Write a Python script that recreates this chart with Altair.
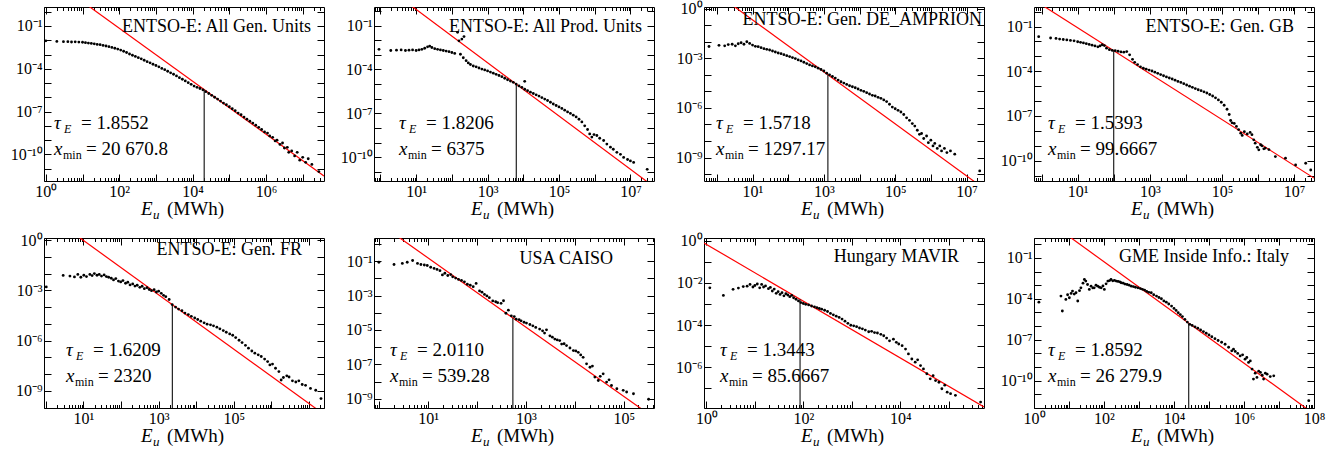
import math

import altair as alt
import pandas as pd

FONT = "Liberation Serif"
W = 280
ROW_H = [174, 170]

# Log-binned energy distributions: (log10 E_u [MWh], log10 P(E_u))
all_gen = [
    (0.00, -2.04), (0.30, -2.08), (0.48, -2.10), (0.60, -2.10), (0.70, -2.12), (0.80, -2.11),
    (0.90, -2.13), (1.00, -2.14), (1.08, -2.17), (1.16, -2.20), (1.24, -2.22), (1.32, -2.25),
    (1.40, -2.29), (1.48, -2.31), (1.56, -2.36), (1.64, -2.40), (1.72, -2.45), (1.80, -2.50),
    (1.88, -2.56), (1.96, -2.62), (2.04, -2.69), (2.12, -2.77), (2.20, -2.86), (2.28, -2.96),
    (2.36, -3.05), (2.44, -3.13), (2.52, -3.22), (2.60, -3.30), (2.68, -3.40), (2.76, -3.50),
    (2.84, -3.58), (2.92, -3.68), (3.00, -3.77), (3.08, -3.86), (3.16, -3.97), (3.24, -4.06),
    (3.32, -4.17), (3.40, -4.28), (3.48, -4.38), (3.56, -4.50), (3.64, -4.62), (3.72, -4.73),
    (3.80, -4.85), (3.88, -4.97), (3.96, -5.09), (4.04, -5.21), (4.12, -5.30), (4.20, -5.38),
    (4.28, -5.47), (4.36, -5.60), (4.44, -5.73), (4.52, -5.86), (4.60, -5.99), (4.68, -6.12),
    (4.76, -6.26), (4.84, -6.40), (4.92, -6.52), (5.00, -6.66), (5.08, -6.80), (5.16, -6.94),
    (5.24, -7.10), (5.32, -7.22), (5.40, -7.38), (5.48, -7.53), (5.56, -7.67), (5.64, -7.80),
    (5.72, -7.95), (5.80, -8.10), (5.88, -8.25), (5.96, -8.42), (6.04, -8.50), (6.10, -8.70),
    (6.18, -8.80), (6.25, -9.05), (6.30, -9.00), (6.38, -9.30), (6.45, -9.20), (6.50, -9.55),
    (6.58, -9.50), (6.62, -9.85), (6.70, -9.75), (6.78, -10.10), (6.85, -9.85), (6.92, -10.40),
    (7.00, -10.20), (7.08, -10.55), (7.15, -10.30), (7.25, -10.70), (7.44, -11.20),
]

all_prod = [
    (-0.04, -2.62), (0.29, -2.70), (0.45, -2.68), (0.58, -2.66), (0.70, -2.70), (0.80, -2.68),
    (0.90, -2.66), (1.00, -2.70), (1.08, -2.66), (1.16, -2.62), (1.24, -2.55), (1.32, -2.45),
    (1.38, -2.40), (1.44, -2.50), (1.52, -2.58), (1.60, -2.62), (1.68, -2.66), (1.76, -2.70),
    (1.84, -2.74), (1.92, -2.78), (2.00, -2.84), (2.08, -2.90), (2.16, -1.46), (2.20, -2.04),
    (2.28, -1.92), (2.34, -1.75), (2.24, -2.96), (2.32, -3.20), (2.40, -3.40), (2.46, -3.55),
    (2.52, -3.66), (2.60, -3.76), (2.68, -3.82), (2.76, -3.90), (2.84, -3.97), (2.92, -4.03),
    (3.00, -4.10), (3.08, -4.18), (3.16, -4.25), (3.24, -4.33), (3.32, -4.41), (3.40, -4.49),
    (3.48, -4.60), (3.56, -4.70), (3.64, -4.79), (3.72, -4.88), (3.80, -5.00), (3.88, -5.12),
    (3.96, -5.22), (4.04, -4.81), (4.04, -5.35), (4.12, -5.45), (4.20, -5.55), (4.28, -5.64),
    (4.36, -5.73), (4.44, -5.82), (4.52, -5.92), (4.60, -6.02), (4.68, -6.12), (4.76, -6.24),
    (4.84, -6.36), (4.92, -6.46), (5.00, -6.56), (5.08, -6.66), (5.16, -6.78), (5.24, -6.90),
    (5.32, -7.00), (5.40, -7.12), (5.48, -7.24), (5.56, -7.40), (5.64, -7.58), (5.72, -7.85),
    (5.80, -8.10), (5.86, -8.40), (5.92, -8.62), (5.98, -8.45), (6.06, -8.51), (6.14, -8.70),
    (6.25, -8.85), (6.34, -9.10), (6.44, -9.31), (6.52, -9.45), (6.62, -9.66), (6.72, -9.80),
    (6.81, -10.01), (6.92, -10.15), (7.00, -10.25), (7.09, -10.35), (7.47, -10.82),
]

de_amprion = [
    (-0.22, -2.29), (0.06, -2.22), (0.22, -2.25), (0.32, -2.17), (0.43, -2.15), (0.52, -2.25),
    (0.60, -2.12), (0.68, -2.06), (0.76, -2.15), (0.84, -2.00), (0.92, -2.10), (1.00, -2.20),
    (1.08, -2.28), (1.16, -2.30), (1.24, -2.36), (1.32, -2.42), (1.40, -2.46), (1.48, -2.50),
    (1.56, -2.56), (1.64, -2.62), (1.72, -2.68), (1.80, -2.72), (1.88, -2.78), (1.96, -2.84),
    (2.04, -2.90), (2.12, -2.96), (2.20, -3.02), (2.28, -3.10), (2.36, -3.16), (2.44, -3.24),
    (2.52, -3.32), (2.60, -3.40), (2.68, -3.46), (2.76, -3.52), (2.84, -3.60), (2.92, -3.68),
    (3.00, -3.77), (3.08, -3.90), (3.16, -4.00), (3.24, -4.10), (3.32, -4.20), (3.40, -4.32),
    (3.48, -4.42), (3.56, -4.50), (3.64, -4.58), (3.72, -4.66), (3.80, -4.72), (3.88, -4.78),
    (3.96, -4.86), (4.04, -4.94), (4.12, -5.00), (4.20, -5.08), (4.28, -5.16), (4.36, -5.24),
    (4.44, -5.28), (4.52, -5.36), (4.60, -5.42), (4.68, -5.52), (4.76, -5.62), (4.84, -5.78),
    (4.92, -5.95), (5.00, -6.05), (5.08, -6.15), (5.16, -6.25), (5.24, -6.40), (5.32, -6.60),
    (5.40, -6.75), (5.48, -6.95), (5.55, -7.10), (5.62, -7.35), (5.68, -7.60), (5.74, -7.55),
    (5.80, -7.85), (5.88, -7.70), (5.93, -8.10), (6.00, -7.95), (6.06, -8.30), (6.11, -8.15),
    (6.18, -8.45), (6.25, -8.30), (6.30, -8.60), (6.38, -8.45), (6.45, -8.70), (6.55, -8.60),
    (6.67, -8.80), (7.37, -9.81),
]

gb = [
    (-0.08, -1.68), (0.25, -1.77), (0.40, -1.80), (0.50, -1.84), (0.60, -1.87), (0.70, -1.90),
    (0.80, -1.93), (0.90, -1.96), (1.00, -2.02), (1.08, -2.06), (1.16, -2.10), (1.24, -2.15),
    (1.32, -2.20), (1.40, -2.25), (1.48, -2.30), (1.56, -2.36), (1.62, -2.30), (1.68, -2.22),
    (1.74, -2.28), (1.80, -2.45), (1.88, -2.55), (1.96, -2.60), (2.04, -2.62), (2.12, -2.66),
    (2.20, -2.70), (2.28, -2.72), (2.36, -2.68), (2.44, -2.90), (2.52, -3.20), (2.58, -3.40),
    (2.66, -3.55), (2.74, -3.70), (2.82, -3.80), (2.90, -3.86), (2.98, -3.92), (3.06, -3.98),
    (3.14, -4.06), (3.22, -4.14), (3.30, -4.22), (3.38, -4.30), (3.46, -4.38), (3.54, -4.45),
    (3.62, -4.52), (3.70, -4.60), (3.78, -4.68), (3.86, -4.75), (3.94, -4.83), (4.02, -4.92),
    (4.10, -5.00), (4.18, -5.08), (4.26, -5.16), (4.34, -5.24), (4.42, -5.30), (4.50, -5.38),
    (4.58, -5.46), (4.66, -5.56), (4.74, -5.66), (4.82, -5.78), (4.90, -5.92), (4.98, -6.08),
    (5.06, -6.28), (5.14, -6.55), (5.20, -6.90), (5.24, -7.30), (5.28, -7.46), (5.34, -7.50),
    (5.40, -7.70), (5.46, -7.91), (5.52, -8.15), (5.56, -8.30), (5.62, -8.05), (5.70, -8.20),
    (5.78, -8.10), (5.83, -8.25), (5.88, -8.60), (5.92, -8.82), (5.98, -9.10), (6.02, -9.27),
    (6.07, -8.93), (6.11, -9.00), (6.16, -9.20), (6.20, -9.15), (6.30, -9.25), (6.48, -9.72),
    (6.76, -9.83), (7.04, -10.28), (7.32, -10.17), (7.46, -10.62),
]

fr = [
    (0.01, -2.80), (0.46, -2.11), (0.64, -2.15), (0.76, -2.20), (0.85, -2.05), (0.93, -2.22),
    (1.01, -2.10), (1.08, -2.18), (1.17, -2.05), (1.23, -2.12), (1.29, -2.00), (1.36, -2.10),
    (1.42, -2.05), (1.48, -2.15), (1.55, -2.08), (1.61, -2.18), (1.67, -2.22), (1.74, -2.28),
    (1.80, -2.38), (1.86, -2.30), (1.93, -2.45), (1.99, -2.50), (2.05, -2.42), (2.12, -2.58),
    (2.18, -2.52), (2.24, -2.68), (2.31, -2.62), (2.37, -2.75), (2.43, -2.70), (2.50, -2.82),
    (2.56, -2.76), (2.62, -2.90), (2.69, -2.84), (2.75, -2.95), (2.81, -3.02), (2.88, -2.96),
    (2.94, -3.10), (3.00, -3.05), (3.07, -3.18), (3.13, -3.30), (3.19, -3.38), (3.28, -3.55),
    (3.36, -3.85), (3.45, -4.00), (3.53, -4.12), (3.62, -4.22), (3.70, -4.36), (3.79, -4.45),
    (3.87, -4.55), (3.96, -4.65), (4.04, -4.74), (4.12, -4.84), (4.21, -4.94), (4.29, -5.02),
    (4.38, -5.06), (4.46, -5.12), (4.55, -5.20), (4.63, -5.30), (4.72, -5.40), (4.80, -5.50),
    (4.89, -5.60), (4.97, -5.68), (5.05, -5.82), (5.14, -5.98), (5.22, -6.12), (5.31, -6.28),
    (5.39, -6.45), (5.48, -6.62), (5.56, -6.75), (5.65, -6.85), (5.73, -6.95), (5.82, -7.10),
    (5.90, -7.25), (5.96, -7.45), (6.03, -7.40), (6.11, -7.65), (6.20, -7.85), (6.26, -8.35),
    (6.32, -8.20), (6.41, -8.10), (6.47, -8.17), (6.56, -8.40), (6.65, -8.47), (6.73, -8.40),
    (6.82, -8.62), (6.91, -8.67), (7.04, -8.85), (7.18, -8.96), (7.32, -9.46),
]

caiso = [
    (-0.01, -1.06), (0.30, -1.19), (0.47, -1.13), (0.57, -1.06), (0.68, -0.96), (0.78, -1.13),
    (0.85, -1.19), (0.92, -1.22), (0.98, -1.25), (1.05, -1.35), (1.12, -1.42), (1.18, -1.48),
    (1.24, -1.55), (1.29, -1.80), (1.34, -1.70), (1.40, -1.83), (1.46, -1.78), (1.50, -1.91),
    (1.56, -1.98), (1.62, -2.06), (1.68, -2.12), (1.74, -2.20), (1.80, -2.34), (1.86, -2.40),
    (1.92, -2.48), (1.98, -2.29), (2.05, -2.73), (2.10, -2.80), (2.15, -2.93), (2.20, -3.02),
    (2.25, -3.12), (2.32, -3.31), (2.38, -3.36), (2.42, -3.41), (2.49, -3.45), (2.54, -3.30),
    (2.59, -4.03), (2.64, -3.85), (2.70, -4.18), (2.76, -4.22), (2.80, -4.37), (2.86, -4.40),
    (2.90, -4.47), (2.96, -4.55), (3.01, -4.60), (3.08, -4.68), (3.14, -4.76), (3.20, -4.85),
    (3.28, -4.95), (3.34, -5.05), (3.38, -5.18), (3.42, -4.99), (3.49, -5.34), (3.54, -5.42),
    (3.59, -5.53), (3.64, -5.58), (3.69, -5.62), (3.73, -5.82), (3.78, -5.80), (3.83, -5.91),
    (3.90, -6.05), (3.97, -6.20), (4.02, -6.22), (4.07, -6.30), (4.12, -6.45), (4.17, -6.59),
    (4.24, -6.97), (4.31, -7.17), (4.36, -7.10), (4.41, -7.74), (4.48, -7.94), (4.52, -7.70),
    (4.58, -7.55), (4.65, -8.03), (4.70, -7.90), (4.75, -8.23), (4.86, -8.42), (4.99, -8.51),
    (5.06, -8.61), (5.20, -8.71), (5.51, -9.03),
]

mavir = [
    (0.07, -2.24), (0.35, -2.60), (0.55, -2.31), (0.66, -2.25), (0.76, -2.18), (0.84, -2.16),
    (0.90, -2.08), (0.96, -2.20), (1.00, -2.13), (1.05, -2.06), (1.10, -2.24), (1.14, -2.08),
    (1.18, -2.20), (1.22, -2.15), (1.28, -2.28), (1.32, -2.22), (1.36, -2.39), (1.40, -2.30),
    (1.44, -2.50), (1.48, -2.42), (1.52, -2.55), (1.56, -2.47), (1.60, -2.62), (1.64, -2.52),
    (1.68, -2.58), (1.72, -2.66), (1.76, -2.60), (1.80, -2.71), (1.85, -2.78), (1.90, -2.86),
    (1.95, -2.94), (2.00, -2.98), (2.05, -3.02), (2.11, -3.05), (2.17, -3.10), (2.23, -3.14),
    (2.28, -3.18), (2.33, -3.22), (2.38, -3.25), (2.44, -3.30), (2.50, -3.36), (2.56, -3.45),
    (2.62, -3.52), (2.68, -3.58), (2.74, -3.64), (2.80, -3.72), (2.86, -3.82), (2.92, -3.92),
    (2.98, -4.01), (3.04, -4.04), (3.10, -4.08), (3.16, -4.14), (3.22, -4.18), (3.28, -4.24),
    (3.35, -4.32), (3.41, -4.30), (3.47, -4.36), (3.53, -4.38), (3.60, -4.44), (3.66, -4.51),
    (3.72, -4.62), (3.78, -4.75), (3.86, -4.67), (3.92, -4.82), (3.97, -4.90), (4.04, -4.98),
    (4.11, -5.14), (4.17, -5.37), (4.24, -5.61), (4.31, -5.76), (4.36, -5.65), (4.42, -5.92),
    (4.48, -6.08), (4.55, -6.31), (4.62, -6.55), (4.68, -6.40), (4.73, -6.63), (4.80, -6.71),
    (4.86, -7.02), (4.92, -6.85), (4.97, -7.18), (5.04, -7.25), (5.14, -7.33), (5.66, -7.65),
]

gme_italy = [
    (0.14, -4.24), (0.77, -3.80), (0.81, -4.89), (0.91, -4.04), (0.96, -3.70), (1.01, -3.92),
    (1.06, -3.60), (1.10, -3.43), (1.15, -3.65), (1.20, -3.55), (1.25, -4.16), (1.30, -3.40),
    (1.34, -3.19), (1.40, -2.85), (1.44, -2.58), (1.48, -2.70), (1.53, -2.95), (1.58, -3.31),
    (1.63, -3.07), (1.68, -3.20), (1.72, -3.19), (1.77, -3.00), (1.82, -3.07), (1.87, -3.15),
    (1.92, -3.19), (1.97, -3.05), (2.01, -3.31), (2.06, -2.90), (2.11, -2.70), (2.16, -2.66),
    (2.20, -2.58), (2.25, -2.68), (2.30, -2.64), (2.35, -2.70), (2.40, -2.72), (2.45, -2.75),
    (2.49, -2.82), (2.55, -2.85), (2.60, -2.92), (2.66, -2.95), (2.72, -3.00), (2.78, -3.07),
    (2.84, -3.10), (2.90, -3.15), (2.97, -3.19), (3.04, -3.25), (3.10, -3.30), (3.16, -3.36),
    (3.22, -3.45), (3.28, -3.52), (3.35, -3.55), (3.42, -3.70), (3.50, -3.80), (3.57, -3.90),
    (3.64, -3.99), (3.71, -4.15), (3.78, -4.24), (3.85, -4.38), (3.93, -4.53), (4.00, -4.70),
    (4.06, -4.85), (4.12, -5.01), (4.18, -5.15), (4.24, -5.30), (4.31, -5.50), (4.38, -5.70),
    (4.45, -5.87), (4.52, -5.95), (4.60, -6.05), (4.68, -6.15), (4.76, -6.28), (4.84, -6.40),
    (4.92, -6.52), (5.00, -6.65), (5.08, -6.78), (5.17, -6.92), (5.26, -7.05), (5.36, -7.18),
    (5.46, -7.33), (5.56, -7.55), (5.65, -7.81), (5.70, -7.69), (5.75, -7.85), (5.82, -8.00),
    (5.89, -8.18), (5.96, -8.10), (6.03, -8.42), (6.08, -8.30), (6.13, -8.66), (6.18, -8.55),
    (6.23, -9.15), (6.27, -9.88), (6.32, -9.45), (6.37, -9.76), (6.42, -9.30), (6.47, -9.39),
    (6.52, -9.60), (6.56, -9.88), (6.61, -9.45), (6.66, -9.52), (6.75, -9.70), (6.85, -9.64),
    (7.85, -11.46),
]

# Fit results and per-panel axis ranges (log10 units)
PANELS = [
    dict(title="ENTSO-E: All Gen. Units", tau=1.8552, xmin=20670.8, xmin_text="20 670.8",
         log_p_cut=-5.45, points=all_gen, x_dom=(-0.05, 7.58), y_dom=(-11.86, 0.33),
         x_labels=[0, 2, 4, 6], y_labels=[-1, -4, -7, -10],
         title_right=13, title_base=25, note_left=10),
    dict(title="ENTSO-E: All Prod. Units", tau=1.8206, xmin=6375, xmin_text="6375",
         log_p_cut=-5.0, points=all_prod, x_dom=(-0.18, 7.66), y_dom=(-11.62, 0.27),
         x_labels=[1, 3, 5, 7], y_labels=[-1, -4, -7, -10],
         title_right=12, title_base=25, note_left=25),
    dict(title="ENTSO-E: Gen. DE_AMPRION", tau=1.5718, xmin=1297.17, xmin_text="1297.17",
         log_p_cut=-4.0, points=de_amprion, x_dom=(-0.36, 7.49), y_dom=(-10.42, 0.1),
         x_labels=[1, 3, 5, 7], y_labels=[0, -3, -6, -9],
         title_right=2, title_base=18, note_left=12),
    dict(title="ENTSO-E: Gen. GB", tau=1.5393, xmin=99.6667, xmin_text="99.6667",
         log_p_cut=-2.62, points=gb, x_dom=(-0.21, 7.55), y_dom=(-11.36, 0.31),
         x_labels=[1, 3, 5, 7], y_labels=[-1, -4, -7, -10],
         title_right=20, title_base=25, note_left=14),
    dict(title="ENTSO-E: Gen. FR", tau=1.6209, xmin=2320, xmin_text="2320",
         log_p_cut=-3.86, points=fr, x_dom=(-0.05, 7.4), y_dom=(-10.02, 0.12),
         x_labels=[1, 3, 5], y_labels=[0, -3, -6, -9],
         title_right=22, title_base=17, note_left=22),
    dict(title="USA CAISO", tau=2.0110, xmin=539.28, xmin_text="539.28",
         log_p_cut=-4.3, points=caiso, x_dom=(-0.11, 5.62), y_dom=(-9.54, 0.35),
         x_labels=[1, 3, 5], y_labels=[-1, -3, -5, -7, -9],
         title_right=41, title_base=26, note_left=16),
    dict(title="Hungary MAVIR", tau=1.3443, xmin=85.6667, xmin_text="85.6667",
         log_p_cut=-2.78, points=mavir, x_dom=(-0.05, 5.73), y_dom=(-7.93, 0.12),
         x_labels=[0, 2, 4], y_labels=[0, -2, -4, -6],
         title_right=25, title_base=24, note_left=16),
    dict(title="GME Inside Info.: Italy", tau=1.8592, xmin=26279.9, xmin_text="26 279.9",
         log_p_cut=-5.78, points=gme_italy, x_dom=(0.0, 8.0), y_dom=(-12.0, 0.46),
         x_labels=[0, 2, 4, 6, 8], y_labels=[-1, -4, -7, -10],
         title_right=25, title_base=24, note_left=14),
]

SUP = str.maketrans("0123456789-", "⁰¹²³⁴⁵⁶⁷⁸⁹⁻")
LOG10 = "(log(datum.value) / LN10)"
IS_MINOR = f"abs({LOG10} - round({LOG10})) > 0.01"
ONE_ROW = pd.DataFrame({"k": [0]})


def power_label(e):
    return "10" + str(e).translate(SUP)


def label_expr(exps):
    expr = "''"
    for k in exps:
        expr = f"round({LOG10}) == {k} ? '{power_label(k)}' : ({expr})"
    return f"{IS_MINOR} ? '' : ({expr})"


def decade_values(lo, hi):
    return [10.0 ** k for k in range(math.ceil(lo - 1e-9), math.floor(hi + 1e-9) + 1)]


def log_tick_values(lo, hi):
    vals = []
    for k in range(math.floor(lo), math.ceil(hi) + 1):
        for m in range(1, 10):
            v = m * 10.0 ** k
            if lo - 1e-9 <= math.log10(v) <= hi + 1e-9:
                vals.append(v)
    return vals


def make_axis(orient, values, exps=None, minor=False):
    kw = dict(orient=orient, values=values, domain=False, grid=False, title=None,
              tickSize=7, offset=-7, tickColor="black", tickWidth=1)
    if minor:
        kw["tickDash"] = {"condition": {"test": IS_MINOR, "value": [0, 3.5, 3.5, 40]},
                          "value": []}
    if exps is None:
        kw["labels"] = False
    else:
        kw.update(labelExpr=label_expr(exps), labelFont=FONT, labelFontSize=16,
                  labelColor="black", labelPadding=2, labelOverlap=False, labelFlush=False)
    return alt.Axis(**kw)


def text(s, x, y, size=18, style="normal", align="left"):
    return alt.Chart(ONE_ROW).mark_text(
        text=s, font=FONT, fontSize=size, fontStyle=style, align=align,
        baseline="alphabetic", color="black",
    ).encode(x=alt.value(x), y=alt.value(y))


def panel(p, h):
    x0, x1 = p["x_dom"]
    y0, y1 = p["y_dom"]
    xs = alt.Scale(type="log", domain=[10 ** x0, 10 ** x1], nice=False)
    ys = alt.Scale(type="log", domain=[10 ** y0, 10 ** y1], nice=False)
    xt = log_tick_values(x0, x1)
    yt = decade_values(y0, y1)

    pts = pd.DataFrame({"E": [10 ** a for a, _ in p["points"]],
                        "P": [10 ** b for _, b in p["points"]]})

    # power law with the fitted exponent, passing through the cut-off point
    p_cut = 10 ** p["log_p_cut"]
    fit_e = [10 ** x0, 10 ** x1]
    fit = pd.DataFrame({"E": fit_e, "P": [p_cut * (e / p["xmin"]) ** (-p["tau"]) for e in fit_e]})
    cut = pd.DataFrame({"E": [p["xmin"]], "P": [p_cut], "P0": [10 ** y0]})

    fit_layer = alt.Chart(fit).mark_line(color="#ff0000", strokeWidth=1.2, clip=True).encode(
        x=alt.X("E:Q", scale=xs, axis=make_axis("top", xt, minor=True)),
        y=alt.Y("P:Q", scale=ys, axis=make_axis("right", yt)),
    )
    cut_layer = alt.Chart(cut).mark_rule(color="#222222", strokeWidth=1.2).encode(
        x=alt.X("E:Q", scale=xs, axis=None),
        y=alt.Y("P:Q", scale=ys, axis=None),
        y2="P0:Q",
    )
    pts_layer = alt.Chart(pts).mark_circle(size=8, color="black", opacity=1, clip=True).encode(
        x=alt.X("E:Q", scale=xs, axis=make_axis("bottom", xt, p["x_labels"], minor=True)),
        y=alt.Y("P:Q", scale=ys, axis=make_axis("left", yt, p["y_labels"])),
    )

    L = p["note_left"]
    tb = h - 52
    xb = h - 26
    c = W / 2
    notes = [
        text(p["title"], W - p["title_right"], p["title_base"], align="right"),
        text("τ", L, tb, size=19, style="italic"),
        text("E", L + 10, tb + 4, size=12, style="italic"),
        text(f"= {p['tau']:.4f}", L + 27, tb, size=19),
        text("x", L, xb, size=19, style="italic"),
        text("min", L + 9, xb + 4, size=12),
        text(f"= {p['xmin_text']}", L + 32, xb, size=19),
        text("E", c - 43, h + 34, size=19, style="italic"),
        text("u", c - 31, h + 38, size=13, style="italic"),
        text("(MWh)", c - 17, h + 34, size=19),
    ]
    return alt.layer(fit_layer, cut_layer, pts_layer, *notes).resolve_axis(
        x="independent", y="independent"
    ).properties(width=W, height=h)


panels = [panel(p, ROW_H[i // 4]) for i, p in enumerate(PANELS)]

chart = alt.concat(
    *panels, columns=4, spacing={"row": 57, "column": 50}, bounds="flush"
).properties(
    padding={"left": 9, "top": 0, "right": 2, "bottom": 2},
    background="white",
).configure_view(stroke="black", strokeWidth=1)

chart.save("out.html", embed_options={"renderer": "svg", "actions": False})
